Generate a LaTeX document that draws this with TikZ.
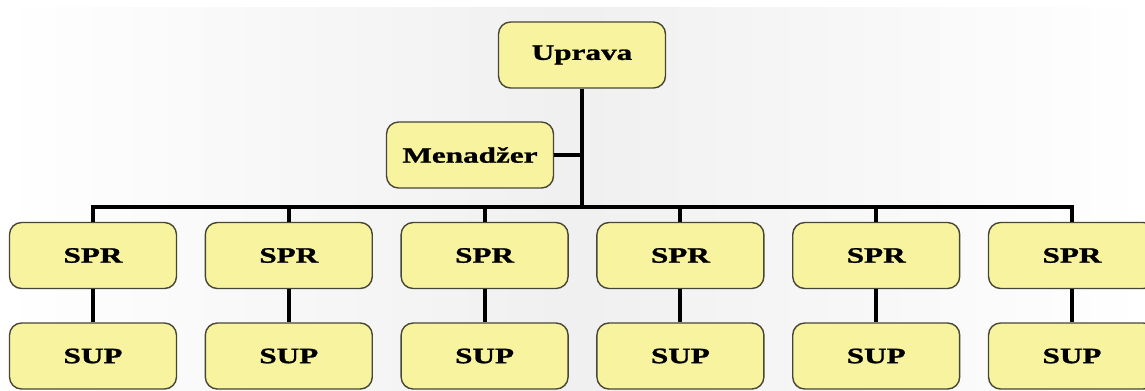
\documentclass[tikz,border=0pt]{standalone}
\usepackage{fontspec}
\usepackage{xcolor}
\usetikzlibrary{positioning}
\newfontfamily\boxfont[FakeStretch=1.42,FakeBold=1.2]{Liberation Serif}
\definecolor{boxfill}{RGB}{248,243,158}
\definecolor{boxline}{RGB}{70,70,55}

\begin{document}
\begin{tikzpicture}[x=0.02cm, y=-0.02cm,
    orgbox/.style={rectangle, rounded corners=0.24cm, draw=boxline, line width=0.8pt, fill=boxfill,
        minimum width=3.34cm, minimum height=1.32cm, inner sep=0pt, font=\boxfont\bfseries\fontsize{12.5}{14}\selectfont},
    link/.style={line width=2.2pt, black}]
    \clip (0,0) rectangle (1145,390);
    \shade[left color=white, right color=white, middle color=black!6] (0,7) rectangle (1145,390);
    \def\d{195.8}

    \node(top) [orgbox] at (582,55) {Uprava};
    \node(mgr) [orgbox] at (470,155) {Menadžer};
    \coordinate (bus) at (582,207);
    \foreach \i in {1,...,6} {
        \node(spr\i) [orgbox] at ({93 + \d * (\i - 1)},255.5) {SPR};
        \node(sup\i) [orgbox] at ({93 + \d * (\i - 1)},356) {SUP};
    }

    \draw[link] (top) -- (bus);
    \draw[link] (mgr.east) -- (mgr.east -| top.south);
    \draw[link] (spr1.north) |- (bus) -| (spr6.north);
    \foreach \i in {2,...,5} {
        \draw[link] (spr\i.north) -- (spr\i.north |- bus);
    }
    \foreach \i in {1,...,6} {
        \draw[link] (spr\i) -- (sup\i);
    }
\end{tikzpicture}
\end{document}
